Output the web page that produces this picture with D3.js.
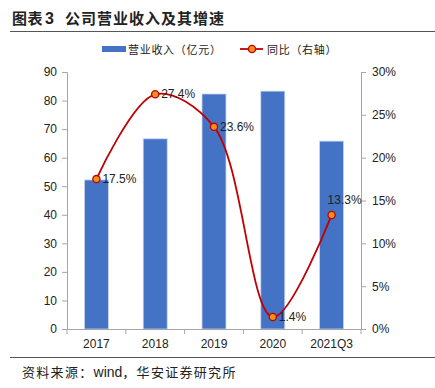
<!DOCTYPE html>
<html>
<head>
<meta charset="utf-8">
<script src="https://cdn.jsdelivr.net/npm/d3@7"></script>
<style>
  body { margin: 0; background: #fff; }
  svg { display: block; }
</style>
</head>
<body>
<div id="chart"></div>
<script>
var categories = ["2017", "2018", "2019", "2020", "2021Q3"];
var revenue = [52.2, 66.6, 82.3, 83.3, 65.8];
var growth = [17.5, 27.4, 23.6, 1.4, 13.3];
var leftTicks = [0, 10, 20, 30, 40, 50, 60, 70, 80, 90];
var rightTicks = [0, 5, 10, 15, 20, 25, 30];

var W = 435, H = 388;
var m = { left: 67, right: 361, top: 72, bottom: 329 };
var font = "'Liberation Sans', Arial, sans-serif";
var cjk = "'Noto Sans CJK SC', sans-serif";
var axisColor = "#a6a6a6";

var svg = d3.select("#chart").append("svg").attr("width", W).attr("height", H);

// header
var title = svg.append("text").attr("y", 24)
  .attr("font-family", cjk).attr("font-weight", "bold").attr("font-size", 15)
  .attr("fill", "#222");
title.append("tspan").attr("x", 12).attr("letter-spacing", 0.5).text("图表");
title.append("tspan").attr("x", 45).attr("font-family", font).attr("font-size", 16).text("3");
title.append("tspan").attr("x", 65).attr("letter-spacing", 1).text("公司营业收入及其增速");
svg.append("line").attr("x1", 10).attr("x2", 435).attr("y1", 31.5).attr("y2", 31.5)
  .attr("stroke", "#555").attr("stroke-width", 1);

var x = d3.scaleBand().domain(categories).range([m.left, m.right]).paddingInner(0).paddingOuter(0);
var yL = d3.scaleLinear().domain([0, 90]).range([m.bottom, m.top]);
var yR = d3.scaleLinear().domain([0, 30]).range([m.bottom, m.top]);

// bars
var barW = 24;
svg.append("g").selectAll("rect").data(revenue).join("rect")
  .attr("x", function (d, i) { return x(categories[i]) + x.bandwidth() / 2 - barW / 2; })
  .attr("y", function (d) { return yL(d); })
  .attr("width", barW)
  .attr("height", function (d) { return yL(0) - yL(d); })
  .attr("fill", "#4472c4")
  .attr("stroke", "#c9d5ee").attr("stroke-width", 0.8);

// axes
var gL = svg.append("g").attr("transform", "translate(" + m.left + ",0)")
  .call(d3.axisLeft(yL).tickValues(leftTicks).tickSize(5).tickPadding(5));
var gR = svg.append("g").attr("transform", "translate(" + m.right + ",0)")
  .call(d3.axisRight(yR).tickValues(rightTicks).tickSize(5).tickPadding(6)
    .tickFormat(function (d) { return d + "%"; }));
var gB = svg.append("g").attr("transform", "translate(0," + m.bottom + ")")
  .call(d3.axisBottom(x).tickSize(0).tickPadding(10));
// category boundary ticks
svg.append("g").selectAll("line").data(d3.range(categories.length + 1)).join("line")
  .attr("x1", function (i) { return m.left + i * x.bandwidth(); })
  .attr("x2", function (i) { return m.left + i * x.bandwidth(); })
  .attr("y1", m.bottom).attr("y2", m.bottom + 5)
  .attr("stroke", axisColor);

[gL, gR, gB].forEach(function (g) {
  g.selectAll("path").attr("stroke", axisColor);
  g.selectAll("line").attr("stroke", axisColor);
  g.selectAll("text").attr("font-family", font).attr("font-size", 12).attr("fill", "#222");
});

// growth line
var pts = growth.map(function (d, i) {
  return [x(categories[i]) + x.bandwidth() / 2, yR(d)];
});
svg.append("path").attr("d", d3.line().curve(d3.curveCatmullRom.alpha(0.5))(pts))
  .attr("fill", "none").attr("stroke", "#c00000").attr("stroke-width", 1.8);
svg.append("g").selectAll("circle").data(pts).join("circle")
  .attr("cx", function (p) { return p[0]; }).attr("cy", function (p) { return p[1]; })
  .attr("r", 3.6).attr("fill", "#f28e1c").attr("stroke", "#c00000").attr("stroke-width", 1.3);

svg.append("g").selectAll("text").data(growth).join("text")
  .attr("x", function (d, i) { return i === 4 ? pts[i][0] - 4 : pts[i][0] + 6; })
  .attr("y", function (d, i) { return i === 4 ? pts[i][1] - 11 : pts[i][1] + 4; })
  .attr("font-family", font).attr("font-size", 12).attr("fill", "#222")
  .text(function (d) { return d.toFixed(1) + "%"; });

// legend, glyphs placed on a fixed full-width pitch
function spaced(str, x0, step) {
  return Array.from(str).map(function (c, i) { return x0 + i * step; }).join(" ");
}
var legBar = "营业收入（亿元）", legLine = "同比（右轴）";
svg.append("rect").attr("x", 102).attr("y", 46).attr("width", 24).attr("height", 6).attr("fill", "#4472c4");
svg.append("text").attr("x", spaced(legBar, 128, 11.7)).attr("y", 53.5)
  .attr("font-family", cjk).attr("font-size", 11)
  .attr("fill", "#222").text(legBar);
svg.append("line").attr("x1", 240).attr("x2", 263).attr("y1", 49).attr("y2", 49)
  .attr("stroke", "#c00000").attr("stroke-width", 1.8);
svg.append("circle").attr("cx", 252).attr("cy", 49).attr("r", 3.6)
  .attr("fill", "#f28e1c").attr("stroke", "#c00000").attr("stroke-width", 1.3);
svg.append("text").attr("x", spaced(legLine, 267, 11.7)).attr("y", 53.5)
  .attr("font-family", cjk).attr("font-size", 11)
  .attr("fill", "#222").text(legLine);

// footer
svg.append("line").attr("x1", 10).attr("x2", 435).attr("y1", 357.5).attr("y2", 357.5)
  .attr("stroke", "#555").attr("stroke-width", 1);
var src = svg.append("text").attr("y", 377).attr("font-size", 13).attr("fill", "#222")
  .attr("font-family", cjk);
src.append("tspan").attr("x", 22).attr("letter-spacing", 1.3).text("资料来源：");
src.append("tspan").attr("font-family", font).attr("font-size", 14).text("wind");
src.append("tspan").attr("letter-spacing", 1.3).text("，华安证券研究所");
</script>
</body>
</html>
